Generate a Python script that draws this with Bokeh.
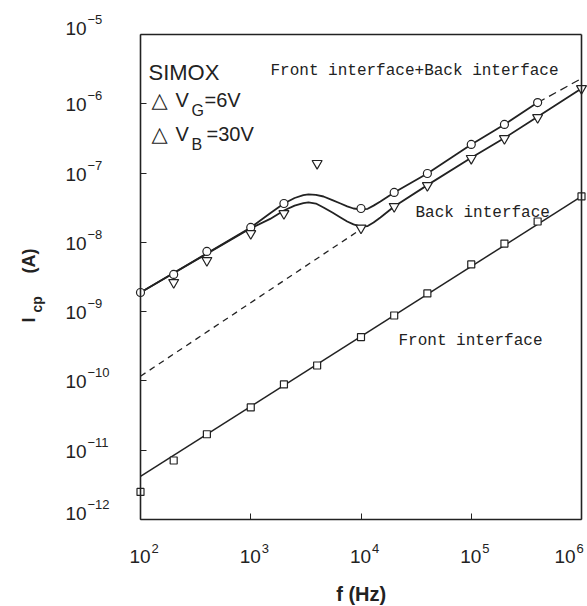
import math
from bokeh.plotting import figure
from bokeh.models import Label, FixedTicker, LogAxis
from bokeh.embed import file_html
from bokeh.resources import INLINE

# ---------------- data ----------------
# measured points (frequency in Hz, current in A)
front_freq = [1e2, 2e2, 4e2, 1e3, 2e3, 4e3, 1e4, 2e4, 4e4, 1e5, 2e5, 4e5, 1e6]
front_I = [2.5e-12, 7.1e-12, 1.7e-11, 4.15e-11, 8.9e-11, 1.67e-10, 4.3e-10,
           8.8e-10, 1.83e-9, 4.8e-9, 9.6e-9, 2.0e-8, 4.6e-8]

both_freq = [1e2, 2e2, 4e2, 1e3, 2e3, 1e4, 2e4, 4e4, 1e5, 2e5, 4e5]
both_I = [1.89e-9, 3.44e-9, 7.4e-9, 1.64e-8, 3.64e-8, 3.08e-8, 5.25e-8,
          9.86e-8, 2.59e-7, 5.03e-7, 1.04e-6]

back_freq = [2e2, 4e2, 1e3, 2e3, 4e3, 1e4, 2e4, 4e4, 1e5, 2e5, 4e5, 1e6]
back_I = [2.64e-9, 5.48e-9, 1.34e-8, 2.61e-8, 1.38e-7, 1.61e-8, 3.30e-8,
          6.62e-8, 1.63e-7, 3.15e-7, 6.34e-7, 1.66e-6]

# traced fitted curves
front_line_f = [1e2, 1e6]
front_line_I = [4.2e-12, 4.6e-8]

back_dash_f = [1e2, 1e4]
back_dash_I = [1.17e-10, 1.55e-8]

both_curve_f = [100, 1000, 1500, 2000, 2500, 3000, 3340, 3900, 4570, 5500,
                6520, 7500, 8550, 10000, 11500, 13000, 15000, 20000, 40000,
                1e5, 2e5, 4e5]
both_curve_I = [1.89e-9, 1.64e-8, 2.63e-8, 3.63e-8, 4.37e-8, 4.81e-8, 4.91e-8,
                4.84e-8, 4.59e-8, 4.07e-8, 3.64e-8, 3.31e-8, 3.08e-8, 2.99e-8,
                3.05e-8, 3.39e-8, 3.89e-8, 5.25e-8, 9.86e-8, 2.59e-7, 5.03e-7,
                1.04e-6]
both_tail_f = [4e5, 1e6]
both_tail_I = [1.04e-6, 2.32e-6]

back_curve_f = [100, 1000, 1500, 2000, 2500, 3000, 3340, 3900, 4570, 5500,
                6520, 7500, 8550, 10000, 11500, 13000, 15000, 20000, 40000,
                1e5, 2e5, 4e5, 1e6]
back_curve_I = [1.89e-9, 1.6e-8, 2.18e-8, 2.88e-8, 3.39e-8, 3.69e-8, 3.77e-8,
                3.63e-8, 3.19e-8, 2.69e-8, 2.29e-8, 2.0e-8, 1.82e-8, 1.69e-8,
                1.72e-8, 1.93e-8, 2.29e-8, 3.3e-8, 6.7e-8, 1.66e-7, 3.2e-7,
                6.5e-7, 1.66e-6]

x_tick_exp = [2, 3, 4, 5, 6]
y_tick_exp = [-5, -6, -7, -8, -9, -10, -11, -12]

X_MIN, X_MAX = 1e2, 1e6       # plotted box, frequency
Y_MIN, Y_MAX = 1e-12, 1e-5    # plotted box, current

INK = "#222222"

# The frame covers nearly the whole canvas so that texts around the box are
# not clipped; the box itself is drawn by four axes fixed at the range limits.
W, H = 587, 606
BOX_L, BOX_R, BOX_T, BOX_B = 140, 581, 34, 519
PAD_L, PAD_T = 10, 10
px_per_dec_x = (BOX_R - BOX_L) / 4.0
px_per_dec_y = (BOX_B - BOX_T) / 7.0
x_lo = 10 ** (2 - (BOX_L - PAD_L) / px_per_dec_x)
x_hi = 10 ** (6 + (W - BOX_R) / px_per_dec_x)
y_hi = 10 ** (-5 + (BOX_T - PAD_T) / px_per_dec_y)
y_lo = 10 ** (-12 - (H - BOX_B) / px_per_dec_y)

p = figure(width=W, height=H, x_axis_type="log", y_axis_type="log",
           x_axis_location="above",
           x_range=(x_lo, x_hi), y_range=(y_lo, y_hi),
           output_backend="svg", toolbar_location=None,
           min_border_left=PAD_L, min_border_right=0,
           min_border_top=PAD_T, min_border_bottom=0)
p.grid.visible = False
p.background_fill_color = "white"
p.border_fill_color = "white"
p.outline_line_color = None

xt = FixedTicker(ticks=[10.0 ** e for e in x_tick_exp])
yt = FixedTicker(ticks=[10.0 ** e for e in y_tick_exp])

bottom_ax = p.xaxis[0]
left_ax = p.yaxis[0]
top_ax = LogAxis()
right_ax = LogAxis()
p.add_layout(top_ax, "above")
p.add_layout(right_ax, "left")

for ax, loc, bnd, tk, ticks_on in (
        (bottom_ax, Y_MIN, (X_MIN, X_MAX), xt, True),
        (top_ax, Y_MAX, (X_MIN, X_MAX), xt, False),
        (left_ax, X_MIN, (Y_MIN, Y_MAX), yt, True),
        (right_ax, X_MAX, (Y_MIN, Y_MAX), yt, False)):
    ax.fixed_location = loc
    ax.bounds = bnd
    ax.ticker = tk
    ax.major_label_text_font_size = "1px"
    ax.major_label_text_color = None
    ax.major_label_standoff = 0
    ax.major_tick_in = 6
    ax.major_tick_out = 0
    ax.minor_tick_line_color = None
    ax.axis_line_color = INK
    ax.axis_line_width = 1.6
    ax.major_tick_line_color = INK if ticks_on else None
    ax.major_tick_line_width = 1
# the bottom axis sits in the top panel; point its ticks up into the box
bottom_ax.major_tick_in = 0
bottom_ax.major_tick_out = 6

# lines
p.line(front_line_f, front_line_I, line_color=INK, line_width=1.5)
p.line(back_dash_f, back_dash_I, line_color=INK, line_width=1.3, line_dash="6 5")
p.line(both_curve_f, both_curve_I, line_color=INK, line_width=1.8)
p.line(both_tail_f, both_tail_I, line_color=INK, line_width=1.3, line_dash="8 5")
p.line(back_curve_f, back_curve_I, line_color=INK, line_width=1.8)

# markers
p.scatter(front_freq, front_I, marker="square", size=7, fill_color="white",
          line_color=INK, line_width=1.2)
p.scatter(both_freq, both_I, marker="circle", size=8, fill_color="white",
          line_color=INK, line_width=1.2)
p.scatter(back_freq, back_I, marker="inverted_triangle", size=10,
          fill_color="white", line_color=INK, line_width=1.2)


def lab(x, y, text, size, xo=0, yo=0, align="left", font="Liberation Sans",
        style="normal", angle=0.0):
    p.add_layout(Label(x=x, y=y, text=text, x_offset=xo, y_offset=yo,
                       text_font_size=f"{size}px", text_align=align,
                       text_baseline="alphabetic", text_font=font,
                       text_font_style=style, text_color=INK, angle=angle))


# y tick labels
y_nudge = {-5: 7, -12: 7}
for e in y_tick_exp:
    n = y_nudge.get(e, 0)
    lab(X_MIN, 10.0 ** e, "10", 19, xo=-75, yo=-1 + n)
    lab(X_MIN, 10.0 ** e, "\u2212" + str(-e), 13, xo=-53, yo=8 + n)

# x tick labels
x_nudge = {6: -16}
for e in x_tick_exp:
    n = x_nudge.get(e, 0)
    lab(10.0 ** e, Y_MIN, "10", 19, xo=-11 + n, yo=-37)
    lab(10.0 ** e, Y_MIN, str(e), 13, xo=11 + n, yo=-29)

# axis titles
lab(1e4, Y_MIN, "f  (Hz)", 20, xo=3, yo=-74, align="center", style="bold")
lab(X_MIN, Y_MIN, "I", 18, xo=-112, yo=197, style="bold", angle=math.pi / 2)
lab(X_MIN, Y_MIN, "cp", 14, xo=-104, yo=207, style="bold", angle=math.pi / 2)
lab(X_MIN, Y_MIN, "(A)", 18, xo=-112, yo=246, style="bold", angle=math.pi / 2)

# legend-like annotation
lab(X_MIN, Y_MAX, "SIMOX", 22, xo=8, yo=-38)
for base, sub, rhs, rx in ((-65, "G", "=6V", 64), (-99, "B", "=30V", 66)):
    lab(X_MIN, Y_MAX, "\u25b3", 21, xo=11, yo=base, font="DejaVu Sans")
    lab(X_MIN, Y_MAX, "V", 20, xo=35, yo=base)
    lab(X_MIN, Y_MAX, sub, 16, xo=51, yo=base - 11)
    lab(X_MIN, Y_MAX, rhs, 20, xo=rx, yo=base)

# curve labels
lab(X_MIN, Y_MAX, "Front interface+Back interface", 16, xo=130, yo=-36,
    font="Liberation Mono")
lab(X_MIN, Y_MAX, "Back interface", 16, xo=275, yo=-178, font="Liberation Mono")
lab(X_MIN, Y_MAX, "Front interface", 16, xo=258, yo=-306, font="Liberation Mono")

open("out.html", "w").write(file_html(p, INLINE))
